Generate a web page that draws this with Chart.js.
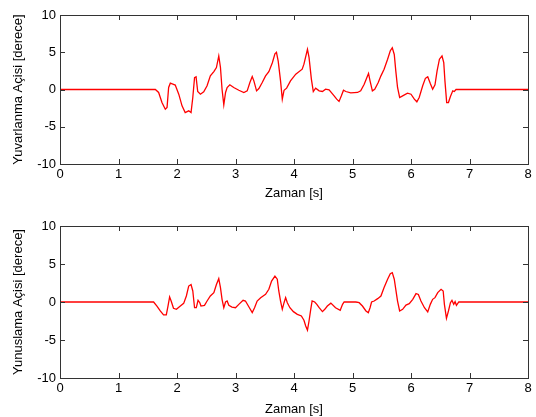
<!DOCTYPE html>
<html>
<head>
<meta charset="utf-8">
<script src="https://cdn.jsdelivr.net/npm/chart.js@4/dist/chart.umd.min.js"></script>
<style>
  body { margin: 0; background: #fff; }
  .box { position: absolute; left: 0; width: 536px; }
</style>
</head>
<body>
<div class="box" style="top:0;height:201px"><canvas id="topChart"></canvas></div>
<div class="box" style="top:201px;height:216px"><canvas id="bottomChart"></canvas></div>
<script>
// Yuvarlanma (roll) - time [s] and angle [deg]
var rollTime = [0, 1.63, 1.686, 1.743, 1.80, 1.83, 1.857, 1.886, 1.94, 1.97, 2.03, 2.086, 2.14, 2.2, 2.24, 2.27, 2.30, 2.326, 2.354, 2.40, 2.457, 2.514, 2.57, 2.63, 2.674, 2.714, 2.743, 2.77, 2.8, 2.83, 2.857, 2.903, 2.97, 3.057, 3.143, 3.2, 3.246, 3.286, 3.314, 3.36, 3.4, 3.457, 3.514, 3.57, 3.63, 3.674, 3.70, 3.73, 3.77, 3.8, 3.83, 3.874, 3.94, 4.03, 4.14, 4.17, 4.23, 4.257, 4.297, 4.33, 4.37, 4.43, 4.486, 4.54, 4.6, 4.686, 4.73, 4.77, 4.81, 4.846, 4.886, 4.97, 5.086, 5.14, 5.2, 5.246, 5.274, 5.3, 5.34, 5.38, 5.44, 5.486, 5.54, 5.6, 5.646, 5.68, 5.714, 5.74, 5.77, 5.806, 5.857, 5.94, 6.0, 6.057, 6.1, 6.14, 6.2, 6.246, 6.286, 6.33, 6.37, 6.41, 6.446, 6.486, 6.53, 6.56, 6.58, 6.61, 6.64, 6.674, 6.714, 6.74, 6.77, 8];
var rollAngle = [0, 0, -0.4, -1.75, -2.64, -2.4, 0.27, 0.85, 0.7, 0.6, -0.63, -2.2, -3.1, -2.86, -3.1, -1.07, 1.6, 1.7, -0.27, -0.63, -0.3, 0.5, 1.83, 2.4, 2.95, 4.5, 2.95, 0.04, -2.06, -0.4, 0.27, 0.63, 0.27, -0.1, -0.4, -0.18, 0.94, 1.75, 1.16, -0.18, 0.13, 0.94, 1.83, 2.4, 3.6, 4.8, 5.0, 3.8, 1.16, -1.3, -0.1, 0.18, 1.16, 2.06, 2.73, 3.4, 5.4, 4.3, 1.4, -0.27, 0.18, -0.18, -0.27, 0.04, -0.04, -0.85, -1.3, -1.6, -0.85, -0.1, -0.27, -0.45, -0.4, -0.18, 0.7, 1.6, 2.15, 1.16, -0.18, 0.04, 0.94, 1.83, 2.73, 4.07, 5.2, 5.6, 4.7, 2.5, 0.27, -1.07, -0.85, -0.5, -0.63, -1.3, -1.65, -1.07, 0.5, 1.5, 1.7, 0.8, 0.04, 0.63, 2.5, 4.07, 4.5, 3.6, 1.16, -1.75, -1.75, -0.94, -0.18, -0.27, 0, 0];

// Yunuslama (pitch)
var pitchTime = [0, 1.6, 1.657, 1.714, 1.77, 1.817, 1.846, 1.874, 1.9, 1.94, 1.99, 2.057, 2.114, 2.16, 2.2, 2.24, 2.27, 2.3, 2.33, 2.36, 2.39, 2.41, 2.47, 2.514, 2.57, 2.63, 2.674, 2.714, 2.743, 2.77, 2.8, 2.83, 2.857, 2.886, 2.94, 3.0, 3.057, 3.13, 3.17, 3.23, 3.286, 3.326, 3.37, 3.43, 3.514, 3.57, 3.617, 3.674, 3.714, 3.74, 3.77, 3.8, 3.83, 3.857, 3.886, 3.93, 3.99, 4.057, 4.126, 4.17, 4.2, 4.23, 4.257, 4.286, 4.31, 4.354, 4.39, 4.43, 4.486, 4.526, 4.57, 4.63, 4.71, 4.79, 4.83, 4.857, 4.97, 5.057, 5.114, 5.17, 5.23, 5.27, 5.3, 5.326, 5.37, 5.43, 5.486, 5.54, 5.6, 5.646, 5.68, 5.714, 5.74, 5.77, 5.806, 5.857, 5.914, 5.97, 6.03, 6.086, 6.126, 6.17, 6.23, 6.286, 6.33, 6.37, 6.41, 6.457, 6.514, 6.55, 6.571, 6.606, 6.64, 6.674, 6.7, 6.73, 6.754, 6.777, 6.817, 8];
var pitchAngle = [0, 0, -0.53, -1.18, -1.7, -1.7, -0.53, 0.66, 0.13, -0.83, -0.96, -0.53, -0.18, 0.79, 2.1, 2.3, 1.45, -0.75, -0.75, 0.22, -0.09, -0.53, -0.44, 0.13, 0.79, 1.23, 2.3, 3.07, 1.9, 0.35, -0.75, 0, 0.13, -0.44, -0.66, -0.75, -0.31, 0.22, 0.13, -0.66, -1.4, -0.75, 0.13, 0.57, 1.0, 1.67, 2.76, 3.4, 3.0, 1.45, 0.13, -0.96, -0.09, 0.57, -0.09, -0.75, -1.27, -1.62, -1.84, -2.4, -3.16, -3.7, -2.5, -0.96, 0.13, 0, -0.31, -0.75, -1.27, -0.96, -0.53, -0.15, -0.75, -1.1, -0.31, 0, 0, 0, -0.09, -0.53, -1.18, -1.4, -0.75, 0, 0.13, 0.44, 0.79, 1.9, 3.0, 3.73, 3.86, 3.0, 1.67, 0.13, -1.18, -0.96, -0.4, -0.22, 0.35, 1.1, 1.0, 0.13, -0.75, -1.3, -0.31, 0.35, 0.57, 1.23, 1.67, 1.45, -0.31, -2.15, -1.18, -0.09, 0.22, -0.31, 0.04, -0.44, 0, 0];

var xTicks = [0, 1, 2, 3, 4, 5, 6, 7, 8];
var yTicks = [-10, -5, 0, 5, 10];

var FONT = "'Liberation Sans', Arial, sans-serif";

// MATLAB tarzı kutu ve içe doğru tik çizgileri
var matlabBox = {
    id: 'matlabBox',
    afterDraw: function (chart) {
        var ctx = chart.ctx, a = chart.chartArea;
        var sx = chart.scales.x, sy = chart.scales.y;
        ctx.save();
        ctx.strokeStyle = '#333';
        ctx.lineWidth = 1;
        ctx.strokeRect(Math.round(a.left) + 0.5, Math.round(a.top) + 0.5,
            Math.round(a.right - a.left), Math.round(a.bottom - a.top));
        ctx.beginPath();
        xTicks.forEach(function (v) {
            var px = Math.round(sx.getPixelForValue(v)) + 0.5;
            ctx.moveTo(px, a.bottom); ctx.lineTo(px, a.bottom - 5);
            ctx.moveTo(px, a.top); ctx.lineTo(px, a.top + 5);
        });
        yTicks.forEach(function (v) {
            var py = Math.round(sy.getPixelForValue(v)) + 0.5;
            ctx.moveTo(a.left, py); ctx.lineTo(a.left + 5, py);
            ctx.moveTo(a.right, py); ctx.lineTo(a.right - 5, py);
        });
        ctx.stroke();
        ctx.restore();
    }
};

function makeChart(id, times, values, yTitle, padTop, xHeight) {
    var pts = times.map(function (t, i) { return { x: t, y: values[i] }; });
    return new Chart(document.getElementById(id), {
        type: 'line',
        data: {
            datasets: [{
                data: pts,
                borderColor: '#ff0000',
                borderWidth: 1.3,
                pointRadius: 0,
                tension: 0,
                fill: false
            }]
        },
        options: {
            responsive: true,
            maintainAspectRatio: false,
            animation: false,
            layout: { padding: { top: padTop, right: 8, left: 0, bottom: 0 } },
            plugins: { legend: { display: false }, tooltip: { enabled: false } },
            scales: {
                x: {
                    type: 'linear', min: 0, max: 8,
                    afterBuildTicks: function (s) { s.ticks = xTicks.map(function (v) { return { value: v }; }); },
                    afterFit: function (s) { s.height = xHeight; },
                    grid: { display: false, drawTicks: false },
                    border: { display: false },
                    ticks: { color: '#000', font: { family: FONT, size: 13 }, padding: 3, maxRotation: 0 },
                    title: { display: true, text: 'Zaman [s]', color: '#000', font: { family: FONT, size: 13 }, padding: { top: 0, bottom: 0 } }
                },
                y: {
                    min: -10, max: 10,
                    afterBuildTicks: function (s) { s.ticks = yTicks.map(function (v) { return { value: v }; }); },
                    afterFit: function (s) { s.width = 60; },
                    grid: { display: false, drawTicks: false },
                    border: { display: false },
                    ticks: { color: '#000', font: { family: FONT, size: 13 }, padding: 4 },
                    title: { display: true, text: yTitle, color: '#000', font: { family: FONT, size: 13 }, padding: { top: 11, bottom: 0 } }
                }
            }
        },
        plugins: [matlabBox]
    });
}

makeChart('topChart', rollTime, rollAngle, 'Yuvarlanma Açisi [derece]', 15, 37);
makeChart('bottomChart', pitchTime, pitchAngle, 'Yunuslama Açisi [derece]', 25, 39);
</script>
</body>
</html>
